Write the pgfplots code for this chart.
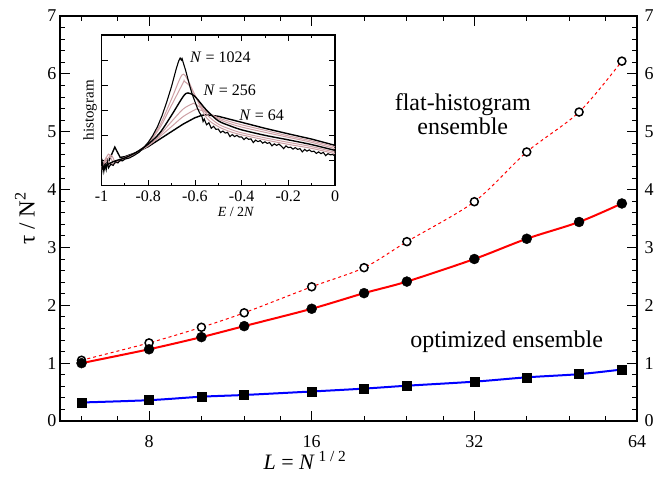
\documentclass[border=0pt]{standalone}
\usepackage{fontspec}
\setmainfont{Liberation Serif}
\usepackage{pgfplots}
\pgfplotsset{compat=1.18}
\definecolor{pinkc}{RGB}{205,160,165}
\begin{document}
\begin{tikzpicture}
\useasboundingbox (-60pt,-59pt) rectangle (603pt,421pt);
% right-hand tick labels
\begin{axis}[
 at={(0pt,0pt)}, anchor=south west,
 scale only axis, width=577pt, height=405pt,
 xmin=0, xmax=1, ymin=0, ymax=7,
 xtick=\empty, ytick={0,...,7},
 yticklabels={\textrm{0},\textrm{1},\textrm{2},\textrm{3},\textrm{4},\textrm{5},\textrm{6},\textrm{7}},
 yticklabel pos=right, major tick length=0pt,
 yticklabel style={xshift=4pt},
 axis line style={draw=none},
 tick label style={font=\fontsize{18}{20}\selectfont},
]
\end{axis}
\begin{axis}[
 at={(0pt,0pt)}, anchor=south west,
 scale only axis, width=577pt, height=405pt,
 xmode=log,
 xmin=5.474, xmax=64, ymin=0, ymax=7,
 xtick={8,16,32,64}, xticklabels={\textrm{8},\textrm{16},\textrm{32},\textrm{64}},
 minor xtick={6,7,10,12,14,20,24,28,40,48,56},
 ytick={0,...,7}, minor y tick num=4,
 yticklabels={\textrm{0},\textrm{1},\textrm{2},\textrm{3},\textrm{4},\textrm{5},\textrm{6},\textrm{7}},
 tick align=inside, major tick length=10pt, minor tick length=5pt,
 every tick/.style={black, line width=1pt},
 axis line style={line width=1.5pt},
 tick label style={font=\fontsize{18}{20}\selectfont},
 xticklabel style={yshift=-11pt},
 xlabel={\textit{L} = \textit{N}\,\textsuperscript{1 / 2}},
 xlabel style={font=\fontsize{22}{24}\selectfont, at={(axis description cs:0.4246,0)}, anchor=base, yshift=-48pt},
 ylabel={τ / N\textsuperscript{2}},
 ylabel style={font=\fontsize{23}{25}\selectfont, at={(axis description cs:-0.0607,0.5)}, anchor=center},
]
\addplot[red, dashed, line width=1pt, smooth] coordinates {(6,1.05) (8,1.35) (10,1.62) (12,1.87) (16,2.32) (20,2.65) (24,3.10) (32,3.79) (40,4.65) (50,5.34) (60,6.22)};
\addplot[red, line width=2pt, smooth] coordinates {(6,1.00) (8,1.24) (10,1.45) (12,1.64) (16,1.94) (20,2.21) (24,2.41) (32,2.80) (40,3.15) (50,3.44) (60,3.76)};
\addplot[blue, line width=2pt, smooth] coordinates {(6,0.32) (8,0.36) (10,0.42) (12,0.45) (16,0.51) (20,0.56) (24,0.61) (32,0.68) (40,0.755) (50,0.81) (60,0.89)};
\addplot[only marks, mark=*, mark size=4pt, mark options={draw=black, fill=white, line width=1.5pt}] coordinates {(6,1.05) (8,1.35) (10,1.62) (12,1.87) (16,2.32) (20,2.65) (24,3.10) (32,3.79) (40,4.65) (50,5.34) (60,6.22)};
\addplot[only marks, mark=*, mark size=5pt, mark options={draw=black, fill=black}] coordinates {(6,1.00) (8,1.24) (10,1.45) (12,1.64) (16,1.94) (20,2.21) (24,2.41) (32,2.80) (40,3.15) (50,3.44) (60,3.76)};
\addplot[only marks, mark=square*, mark size=4.5pt, mark options={draw=black, fill=black}] coordinates {(6,0.32) (8,0.36) (10,0.42) (12,0.45) (16,0.51) (20,0.56) (24,0.61) (32,0.68) (40,0.755) (50,0.81) (60,0.89)};
\node[font=\fontsize{24}{24}\selectfont, align=center] at (rel axis cs:0.698,0.758) {flat-histogram\\ensemble};
\node[font=\fontsize{24}{24}\selectfont] at (rel axis cs:0.774,0.195) {optimized ensemble};
\end{axis}
% inset
\begin{axis}[
 at={(41.5pt,235.5pt)}, anchor=south west,
 scale only axis, width=233.5pt, height=150.5pt,
 xmin=-1, xmax=0, ymin=0, ymax=6,
 xtick={-1,-0.8,-0.6,-0.4,-0.2,0},
 xticklabels={\textrm{-1},\textrm{-0.8},\textrm{-0.6},\textrm{-0.4},\textrm{-0.2},\textrm{0}},
 minor xtick={-0.9,-0.7,-0.5,-0.3,-0.1},
 ytick={1,2,3,4,5}, yticklabels={},
 axis background/.style={fill=white},
 tick align=inside, major tick length=6pt, minor tick length=3pt,
 every tick/.style={black, line width=0.8pt},
 axis line style={line width=1.5pt},
 tick label style={font=\fontsize{16}{18}\selectfont},
 xticklabel style={yshift=-2pt},
 xlabel={\textit{E} / 2\textit{N}},
 xlabel style={font=\fontsize{14}{16}\selectfont, at={(axis description cs:0.576,0)}, anchor=base, yshift=-30.5pt},
 ylabel={histogram},
 ylabel style={font=\fontsize{15}{17}\selectfont, at={(axis description cs:-0.049,0.5)}, anchor=center},
]
% N=64
\addplot[black, line width=1.4pt] coordinates {(-1,0.75) (-0.97,0.95) (-0.943,1.53) (-0.92,1.12) (-0.9,1.15) (-0.85,1.32) (-0.8,1.55) (-0.75,1.85) (-0.7,2.15) (-0.65,2.45) (-0.6,2.7) (-0.57,2.8) (-0.55,2.82) (-0.5,2.76) (-0.45,2.64) (-0.4,2.52) (-0.3,2.28) (-0.2,2.06) (-0.1,1.85) (0,1.6)};
% N=100
\addplot[pinkc, line width=1pt, smooth] coordinates {(-1,0.72) (-0.96,1.2) (-0.94,0.95) (-0.9,1.12) (-0.85,1.32) (-0.8,1.58) (-0.75,1.95) (-0.7,2.35) (-0.65,2.75) (-0.6,3.02) (-0.59,3.04) (-0.55,2.92) (-0.5,2.7) (-0.45,2.55) (-0.4,2.42) (-0.3,2.2) (-0.2,1.98) (-0.1,1.78) (0,1.54)};
% N=144
\addplot[pinkc, line width=1pt, smooth] coordinates {(-1,0.7) (-0.97,1.25) (-0.95,0.95) (-0.9,1.1) (-0.85,1.32) (-0.8,1.6) (-0.75,2.02) (-0.7,2.55) (-0.65,3.05) (-0.61,3.26) (-0.6,3.25) (-0.55,2.95) (-0.5,2.65) (-0.45,2.47) (-0.4,2.33) (-0.3,2.12) (-0.2,1.92) (-0.1,1.72) (0,1.47)};
% N=400
\addplot[pinkc, line width=1pt, smooth] coordinates {(-1,0.65) (-0.98,1.1) (-0.96,0.85) (-0.9,1.08) (-0.85,1.32) (-0.8,1.68) (-0.75,2.3) (-0.7,3.2) (-0.65,4.1) (-0.645,4.15) (-0.62,3.95) (-0.6,3.6) (-0.55,2.85) (-0.5,2.45) (-0.45,2.25) (-0.4,2.1) (-0.3,1.9) (-0.2,1.72) (-0.1,1.55) (0,1.33)};
% N=576
\addplot[pinkc, line width=1pt, smooth] coordinates {(-1,0.62) (-0.985,1.0) (-0.97,0.8) (-0.9,1.06) (-0.85,1.31) (-0.8,1.7) (-0.75,2.4) (-0.7,3.45) (-0.655,4.41) (-0.63,4.2) (-0.6,3.6) (-0.55,2.7) (-0.5,2.35) (-0.45,2.15) (-0.4,2.02) (-0.3,1.82) (-0.2,1.64) (-0.1,1.48) (0,1.27)};
% N=256
\addplot[black, line width=1.4pt, smooth] coordinates {(-1,0.7) (-0.95,0.95) (-0.9,1.1) (-0.85,1.33) (-0.8,1.65) (-0.75,2.1) (-0.7,2.8) (-0.65,3.55) (-0.63,3.69) (-0.6,3.55) (-0.55,3.0) (-0.5,2.58) (-0.45,2.38) (-0.4,2.22) (-0.3,2.0) (-0.2,1.82) (-0.1,1.63) (0,1.40)};
% N=1024
\addplot[black, line width=1.1pt] coordinates {(-1,0.45) (-0.995,0.9) (-0.99,0.55) (-0.985,0.8) (-0.98,0.62) (-0.975,0.95) (-0.97,0.7) (-0.96,0.85) (-0.95,0.8) (-0.94,0.95) (-0.93,0.9) (-0.92,1.0) (-0.91,0.98) (-0.9,1.05) (-0.88,1.1) (-0.86,1.2) (-0.84,1.32) (-0.82,1.5) (-0.8,1.72) (-0.78,2.0) (-0.76,2.35) (-0.74,2.8) (-0.72,3.35) (-0.70,3.95) (-0.69,4.3) (-0.68,4.65) (-0.67,4.95) (-0.663,5.08) (-0.658,5.0) (-0.655,5.06) (-0.65,4.9) (-0.64,4.6) (-0.63,4.25) (-0.62,3.9) (-0.61,3.6) (-0.6,3.35) (-0.59,3.1) (-0.58,2.9) (-0.57,2.75) (-0.565,2.55) (-0.56,2.65) (-0.55,2.42) (-0.54,2.50) (-0.53,2.28) (-0.52,2.36) (-0.51,2.24) (-0.50,2.25) (-0.49,2.11) (-0.48,2.17) (-0.47,2.09) (-0.46,2.12) (-0.45,1.95) (-0.44,2.03) (-0.43,1.95) (-0.42,2.00) (-0.41,1.93) (-0.40,1.94) (-0.39,1.83) (-0.38,1.91) (-0.37,1.84) (-0.36,1.86) (-0.35,1.71) (-0.34,1.81) (-0.33,1.75) (-0.32,1.79) (-0.31,1.69) (-0.30,1.74) (-0.29,1.68) (-0.28,1.71) (-0.27,1.58) (-0.26,1.66) (-0.25,1.60) (-0.24,1.65) (-0.23,1.57) (-0.22,1.47) (-0.21,1.58) (-0.20,1.51) (-0.19,1.53) (-0.18,1.45) (-0.17,1.51) (-0.16,1.44) (-0.15,1.47) (-0.14,1.34) (-0.13,1.44) (-0.12,1.37) (-0.11,1.42) (-0.10,1.35) (-0.09,1.37) (-0.08,1.28) (-0.07,1.34) (-0.06,1.27) (-0.05,1.32) (-0.04,1.19) (-0.03,1.27) (-0.02,1.22) (-0.01,1.24) (0,1.17)};
\node[font=\fontsize{16}{18}\selectfont, anchor=west, inner sep=0pt] at (axis cs:-0.621,5.12) {\textit{N} = 1024};
\node[font=\fontsize{16}{18}\selectfont, anchor=west, inner sep=0pt] at (axis cs:-0.564,3.78) {\textit{N} = 256};
\node[font=\fontsize{16}{18}\selectfont, anchor=west, inner sep=0pt] at (axis cs:-0.41,2.81) {\textit{N} = 64};
\end{axis}
\end{tikzpicture}
\end{document}
